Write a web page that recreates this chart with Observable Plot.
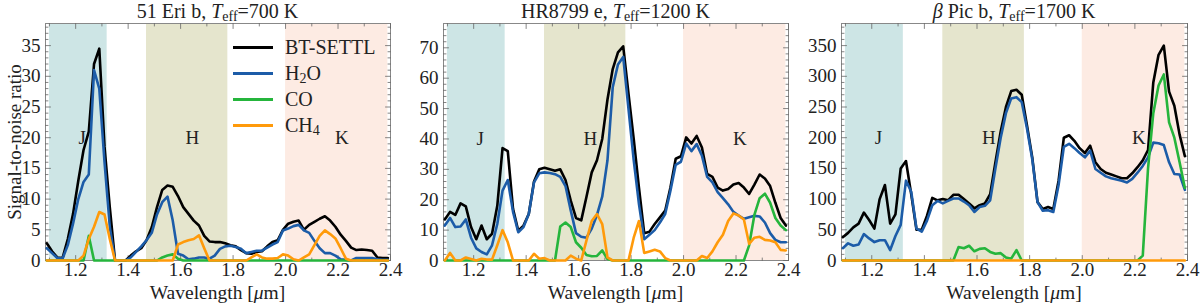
<!DOCTYPE html>
<html><head><meta charset="utf-8">
<script src="https://cdn.jsdelivr.net/npm/d3@7"></script>
<script src="https://cdn.jsdelivr.net/npm/@observablehq/plot@0.6"></script>
<style>
html,body{margin:0;padding:0;background:#fff;}
#root{position:relative;width:1200px;height:306px;overflow:hidden;font-family:'Liberation Serif',serif;color:#222;}
.panel{position:absolute;top:0;width:400px;height:306px;}
.title{position:absolute;top:0;height:23px;line-height:23px;text-align:center;font-size:20px;white-space:nowrap;}
.title sub{font-size:14px;vertical-align:baseline;position:relative;top:3px;}
.svgwrap{position:absolute;top:22px;left:0;}
.svgwrap svg{overflow:visible;}
.xlabel{position:absolute;top:281px;height:24px;line-height:24px;text-align:center;font-size:19.5px;white-space:nowrap;}
.lg-line{position:absolute;width:40px;height:3px;}
.lg-text{position:absolute;height:24px;line-height:24px;font-size:20px;white-space:nowrap;}
.lg-text sub{font-size:14px;vertical-align:baseline;position:relative;top:3px;}
</style></head><body><div id="root"></div>
<script>
// ---------- data ----------
const wavelength = [1.09,1.11,1.13,1.15,1.17,1.19,1.21,1.23,1.25,1.27,1.29,1.31,1.33,1.35,1.37,1.39,1.41,1.43,1.45,1.47,1.49,1.51,1.53,1.55,1.57,1.59,1.61,1.63,1.65,1.67,1.69,1.71,1.73,1.75,1.77,1.79,1.81,1.83,1.85,1.87,1.89,1.91,1.93,1.95,1.97,1.99,2.01,2.03,2.05,2.07,2.09,2.11,2.13,2.15,2.17,2.19,2.21,2.23,2.25,2.27,2.29,2.31,2.33,2.35,2.37,2.39];

// 51 Eri b
const eri_bt  = [2.8,1.5,0.5,0.4,3.5,7.6,13,18,21,32,34.5,18.5,8.7,0,0,0,0.8,1.5,2,3.3,5.4,8.7,11.5,12.2,12,10.5,8.7,7.6,6.5,5.7,4,3.1,3,3,2.8,2.5,2.3,1.7,1.2,1.1,1.4,1.5,2.3,3,3.3,5,6,6.3,6.5,5,5.8,6.3,6.8,7.2,6.5,5.5,4.2,3.2,2.1,1.7,1.8,1.7,1.6,0.5,0.4,0.4];
const eri_h2o = [2,1.2,0.4,0.3,2.5,6,10,12.8,14,31,28,16,5.5,0,0,0,0.5,1.4,2.3,3.3,4.5,7.5,9.5,10.4,6.5,1.1,0.8,0.2,0.3,0.5,0.5,0.3,0.8,1.9,2.3,2.4,2.2,1.9,1.2,1.4,1.6,1.6,2.1,2.6,3,4.9,5.2,5.6,5.8,4.9,4.5,3.2,2,1.2,1.2,0.8,0.2,0.1,0,0.4,0.4,0.4,0.4,0.2,0.1,0.1];
const eri_co  = [0,0,0,0,0,0,0,0,4,0,0,0,0,0,0,0,0,0,0,0,0,0,0.5,0.8,1,0.3,0,0,0,0,0,0,0,0,0,0,0,0,0,0,0,0,0,0,0,0,0,0,0,0,0,0,0,0,0,0,0,0,0,0,0,0,0,0,0,0];
const eri_ch4 = [0,0,0,0,0,0,0,0.8,3.5,5.5,7.9,7.5,3.5,0,0,0,0,0,0,0,0,0,0,0,0,2.6,3,3.3,3.5,4.1,2,0,0,0,0,0,0,0,0,0.5,1,0.5,0.3,0.3,0.4,1,0.8,0.2,0,0.5,1,2.5,4,4.9,4.3,3.6,2,0.3,0,0,0,0,0,0,0,0];

// HR8799 e
const hr_bt  = [13.5,16,15,18.8,17.8,11,7,11.5,7,8.8,18,37,36,17,9.8,11.5,15.3,26,30,30.5,30,29.5,30,26.5,19.7,14,13.2,21,29,33,40,53,63,68.5,70.5,55,40,24,9,9.5,12,14.2,16.4,24,33.5,34.3,40.5,38.5,41,37.2,28.5,27.5,24,23,23.5,25,25.5,24,21.9,25,28.3,27,24.5,19,14,11.5];
const hr_h2o = [11.5,14,11,11.2,13.5,7.5,4,2.8,2,5,12,23,26.5,16,9.3,11,15.3,25.7,28.7,29,28.8,28.4,27.5,24.5,16.5,9,7.8,7.5,10.5,15,21,33,57,64.5,67,50,33,18.6,7,8.5,10,12.5,15.3,23,31.5,32.5,38.5,36,38.3,34.5,27.5,25.7,22.5,20.5,18.5,16,14.8,13.7,14.2,14.7,14.5,12.5,9,6.8,6,6];
const hr_co  = [0,0,0,0,0,0,0,0,0,0,0,0,0,0,0,0,0,0,0,0,0,0,11.2,12.5,11,6,4.2,1.8,1.4,1.5,3.3,0.5,0,0,0,0,0,0,0,0,0,0,0,0,0,0,0,0,0,0,0,0,0,0,0,0,0,0,5,15,20.5,22,19,14,11.5,10];
const hr_ch4 = [0,2.5,0,0,1,0.5,0,0.6,0.3,0.3,5,10,6,0,0,0,0,2.2,0.6,0.8,0,0,0,0,1.6,0.6,0,6.6,13,15.3,12,1,0,0,0,0,7.5,13,2.5,3,3.5,3,0.8,0,0,0,0,0,0,1.5,0.8,3,6,8.5,13,15.5,14.8,13.5,5.5,7.5,7.8,6.8,6.6,6,3.5,3.3];

// beta Pic b
const pic_bt  = [38,45,54,60,78,66,52,100,123,60,75,150,162,108,50,50,73,102,98,100,98,107,107,100,93,85,90,93,108,160,210,250,276,278,270,220,168,95,84,87,84,130,200,204,195,183,175,187,160,149,143,140,137,134,134,142,152,163,180,290,335,350,275,252,205,170];
const pic_h2o = [20,28,24,26,43,36,30,33,33,17,40,58,130,112,52,47,65,90,97,93,97,101,101,96,90,79,87,89,98,150,200,240,264,266,258,215,165,95,81,82,79,123,185,190,183,175,168,179,149,143,137,134,132,130,127,133,143,154,168,192,191,188,160,141,140,115];
const pic_co  = [0,0,0,0,0,0,0,0,0,0,0,0,0,0,0,0,0,0,0,0,0,0,22,20,24,15,19,20,14,11,12,5,3,17,0,0,0,0,0,0,0,0,0,0,0,0,0,0,0,0,0,0,0,0,0,0,0,8,150,240,285,303,225,200,160,118];
const pic_ch4 = [0,0,0,0,0,0,0,0,0,0,0,0,0,0,0,0,0,0,0,0,0,0,0,0,0,0,0,0,0,0,0,0,0,0,0,0,0,0,0,0,0,0,0,0,0,0,0,0,0,0,0,0,0,0,0,0,0,0,0,0,0,0,0,0,0,0];

const seriesNames = ["BT-SETTL", "H2O", "CO", "CH4"];
const seriesLabels = ["BT-SETTL", "H<sub>2</sub>O", "CO", "CH<sub>4</sub>"];

const bandNames = ["J", "H", "K"];
const bandStart = [1.10, 1.47, 2.00];
const bandEnd   = [1.32, 1.78, 2.39];
const bandLabelX = [1.225, 1.645, 2.215];

const xMajor = [1.2, 1.4, 1.6, 1.8, 2.0, 2.2, 2.4];
const yMajor1 = [0, 5, 10, 15, 20, 25, 30, 35];
const yMajor2 = [0, 10, 20, 30, 40, 50, 60, 70];
const yMajor3 = [0, 50, 100, 150, 200, 250, 300, 350];

const titles = [
  '51 Eri b, <i>T</i><sub>eff</sub>=700 K',
  'HR8799 e, <i>T</i><sub>eff</sub>=1200 K',
  '<i>&beta;</i> Pic b, <i>T</i><sub>eff</sub>=1700 K'
];

// ---------- styles / layout ----------
const lineColors = ["#000000", "#1c5ca8", "#25b53c", "#ff9a0a"];
const bandColors = ["#cde5e5", "#e5e5cd", "#fdebe3"];
const frameColor = "#888";
const tickColor = "#666";
const xDomain = [1.085, 2.4];

const panels = [
  {left: 0,   ml: 45, mr: 10, ymax: 38.6, yMajor: yMajor1, yMinorStep: 1,  labelY: 20,  series: [eri_bt, eri_h2o, eri_co, eri_ch4], ylabel: true,  legend: true},
  {left: 400, ml: 43, mr: 12, ymax: 78,   yMajor: yMajor2, yMinorStep: 2,  labelY: 40,  series: [hr_bt, hr_h2o, hr_co, hr_ch4],     ylabel: false, legend: false},
  {left: 800, ml: 41, mr: 13, ymax: 386,  yMajor: yMajor3, yMinorStep: 10, labelY: 200, series: [pic_bt, pic_h2o, pic_co, pic_ch4], ylabel: false, legend: false}
];

const tickShape = {draw(ctx, l) { ctx.moveTo(0, 0); ctx.lineTo(0, -l); }};
function xTicks(vals, len) {
  return [
    Plot.vector(vals, {x: d => d, frameAnchor: "bottom", length: len, rotate: 0, anchor: "start", shape: tickShape, stroke: tickColor, strokeWidth: 0.8}),
    Plot.vector(vals, {x: d => d, frameAnchor: "top", length: len, rotate: 180, anchor: "start", shape: tickShape, stroke: tickColor, strokeWidth: 0.8})
  ];
}
function yTicks(vals, len) {
  return [
    Plot.vector(vals, {y: d => d, frameAnchor: "left", length: len, rotate: 90, anchor: "start", shape: tickShape, stroke: tickColor, strokeWidth: 0.8}),
    Plot.vector(vals, {y: d => d, frameAnchor: "right", length: len, rotate: -90, anchor: "start", shape: tickShape, stroke: tickColor, strokeWidth: 0.8})
  ];
}

const root = document.getElementById("root");
const W = 400, H = 262, MT = 1, MB = 24;

panels.forEach((p, pi) => {
  const div = document.createElement("div");
  div.className = "panel";
  div.style.left = p.left + "px";
  root.appendChild(div);

  const plotW = W - p.ml - p.mr;

  const t = document.createElement("div");
  t.className = "title";
  t.style.left = p.ml + "px";
  t.style.width = plotW + "px";
  t.innerHTML = titles[pi];
  div.appendChild(t);

  const bands = bandNames.map((n, i) => ({name: n, x1: bandStart[i], x2: bandEnd[i], lx: bandLabelX[i], fill: bandColors[i]}));
  const lines = p.series.map((arr, si) => Plot.line(
    wavelength.map((w, i) => ({w, v: arr[i]})),
    {x: "w", y: "v", stroke: lineColors[si], strokeWidth: 2.6, strokeLinejoin: "round"}
  ));

  const xMinor = d3.range(1.1, 2.401, 0.1).map(v => +v.toFixed(2)).filter(v => !xMajor.some(m => Math.abs(m - v) < 1e-6));
  const yMinor = d3.range(0, p.ymax, p.yMinorStep).filter(v => !p.yMajor.includes(v));

  const chart = Plot.plot({
    width: W, height: H,
    marginTop: MT, marginBottom: MB, marginLeft: p.ml, marginRight: p.mr,
    style: {fontFamily: "'Liberation Serif', serif", fontSize: "19px", color: "#222", background: "transparent", overflow: "visible"},
    x: {domain: xDomain},
    y: {domain: [0, p.ymax]},
    marks: [
      Plot.rect(bands, {x1: "x1", x2: "x2", fill: "fill"}),
      Plot.text(bands, {x: "lx", y: () => p.labelY, text: "name", fontSize: 19, fill: "#222"}),
      Plot.frame({stroke: frameColor, strokeWidth: 1}),
      ...xTicks(xMajor, 5), ...xTicks(xMinor, 2.5),
      ...yTicks(p.yMajor, 5), ...yTicks(yMinor, 2.5),
      ...lines,
      Plot.axisX(xMajor, {tickSize: 0, tickPadding: 2, tickFormat: d3.format(".1f"), label: null, fontSize: 19}),
      Plot.axisY(p.yMajor, {tickSize: 0, tickPadding: 5, fontSize: 19,
        label: p.ylabel ? "Signal-to-noise ratio" : null, labelAnchor: "center", labelOffset: 38, labelArrow: "none"})
    ]
  });
  const wrap = document.createElement("div");
  wrap.className = "svgwrap";
  wrap.appendChild(chart);
  div.appendChild(wrap);

  const xl = document.createElement("div");
  xl.className = "xlabel";
  xl.style.left = p.ml + "px";
  xl.style.width = plotW + "px";
  xl.innerHTML = 'Wavelength [<i>&mu;</i>m]';
  div.appendChild(xl);

  if (p.legend) {
    const rowsY = [47, 73, 99, 125];
    seriesLabels.forEach((lab, i) => {
      const ln = document.createElement("div");
      ln.className = "lg-line";
      ln.style.left = "233px";
      ln.style.top = (rowsY[i] - 1.5) + "px";
      ln.style.background = lineColors[i];
      div.appendChild(ln);
      const tx = document.createElement("div");
      tx.className = "lg-text";
      tx.style.left = "285px";
      tx.style.top = (rowsY[i] - 12) + "px";
      tx.innerHTML = lab;
      div.appendChild(tx);
    });
  }
});
</script></body></html>
